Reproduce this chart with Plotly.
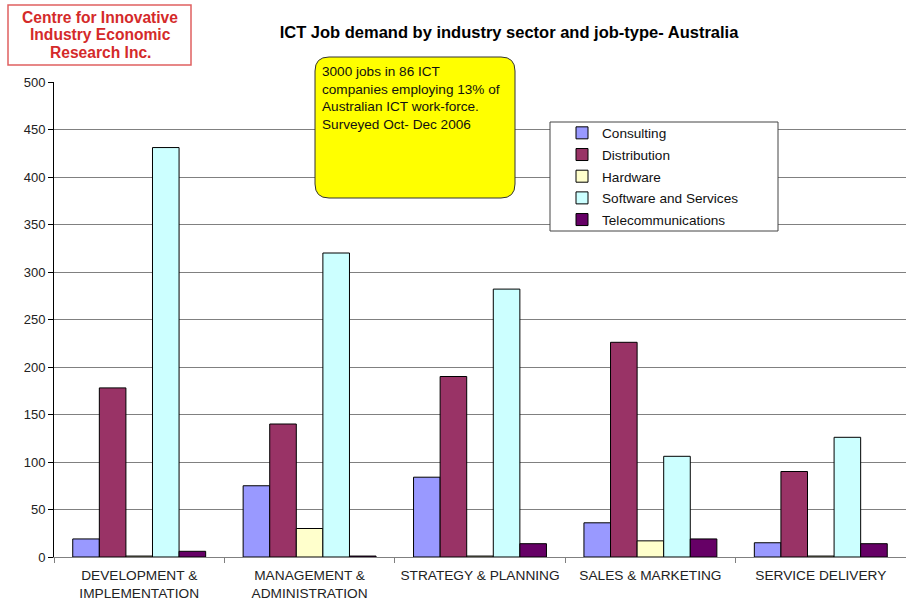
import plotly.graph_objects as go

# Job-type categories along the x axis
job_types = [
    "DEVELOPMENT &<br>IMPLEMENTATION",
    "MANAGEMENT &<br>ADMINISTRATION",
    "STRATEGY & PLANNING",
    "SALES & MARKETING",
    "SERVICE DELIVERY",
]

# Jobs demanded per industry sector
consulting = [19, 75, 84, 36, 15]
distribution = [178, 140, 190, 226, 90]
hardware = [1, 30, 1, 17, 1]
software_services = [431, 320, 282, 106, 126]
telecommunications = [6, 1, 14, 19, 14]

sectors = [
    ("Consulting", consulting, "#9999FF"),
    ("Distribution", distribution, "#993366"),
    ("Hardware", hardware, "#FFFFCC"),
    ("Software and Services", software_services, "#CCFFFF"),
    ("Telecommunications", telecommunications, "#660066"),
]

logo_lines = ["Centre for Innovative", "Industry Economic", "Research Inc."]

y_ticks = list(range(0, 501, 50))

W, H = 906, 601
ML, MR, MT, MB = 54, 0, 82, 44
PW, PH = W - ML - MR, H - MT - MB


def px_x(p):
    return (p - ML) / PW


def px_y(p):
    return (H - MB - p) / PH


fig = go.Figure()
for i, (name, vals, color) in enumerate(sectors):
    fig.add_trace(go.Bar(
        x=job_types, y=vals, name=name, legendgroup=f"g{i}",
        marker=dict(color=color, line=dict(color="#000000", width=1)),
    ))

# Rounded yellow note box
x0, x1, y0, y1, r = 315, 515, 57, 198, 14
rx, ry = r / PW, r / PH
X0, X1, Y0, Y1 = px_x(x0), px_x(x1), px_y(y1), px_y(y0)
path = (
    f"M{X0 + rx},{Y1} L{X1 - rx},{Y1} Q{X1},{Y1} {X1},{Y1 - ry} "
    f"L{X1},{Y0 + ry} Q{X1},{Y0} {X1 - rx},{Y0} "
    f"L{X0 + rx},{Y0} Q{X0},{Y0} {X0},{Y0 + ry} "
    f"L{X0},{Y1 - ry} Q{X0},{Y1} {X0 + rx},{Y1} Z"
)

shapes = [
    dict(type="path", path=path, xref="paper", yref="paper",
         fillcolor="#FFFF00", line=dict(color="#333333", width=1), layer="above"),
    # legend frame
    dict(type="rect", xref="paper", yref="paper",
         x0=px_x(550), x1=px_x(778), y0=px_y(231), y1=px_y(122),
         fillcolor="#FFFFFF", line=dict(color="#444444", width=1), layer="above"),
    # logo frame
    dict(type="rect", xref="paper", yref="paper",
         x0=px_x(8), x1=px_x(191), y0=px_y(65), y1=px_y(5),
         fillcolor="#FFFFFF", line=dict(color="#E06060", width=1.5), layer="above"),
]

annotations = [
    dict(text="3000 jobs in 86 ICT<br>companies employing 13% of<br>"
              "Australian ICT work-force.<br>Surveyed Oct- Dec 2006",
         xref="paper", yref="paper", x=px_x(320), y=px_y(62),
         xanchor="left", yanchor="top", align="left", showarrow=False,
         font=dict(family="Arial, Liberation Sans", size=13.6, color="#111111")),
]
for k, line in enumerate(logo_lines):
    annotations.append(dict(
        text=f"<b>{line}</b>", xref="paper", yref="paper",
        x=px_x(100), y=px_y(17 + 18 * k), xanchor="center", yanchor="middle",
        showarrow=False,
        font=dict(family="Arial, Liberation Sans", size=15.6, color="#D42A2A"),
    ))

fig.update_layout(
    width=W, height=H,
    margin=dict(l=ML, r=MR, t=MT, b=MB),
    paper_bgcolor="#FFFFFF", plot_bgcolor="#FFFFFF",
    font=dict(family="Arial, Liberation Sans", size=13, color="#222222"),
    title=dict(text="<b>ICT Job demand by industry sector and job-type- Australia</b>",
               x=509 / W, xanchor="center", y=1 - 32 / H, yanchor="middle",
               font=dict(size=16.5, color="#000000")),
    barmode="group", bargap=0.22, bargroupgap=0,
    showlegend=True,
    legend=dict(x=px_x(562), y=px_y(117.5), xanchor="left", yanchor="top",
                bgcolor="rgba(0,0,0,0)", borderwidth=0, tracegroupgap=1,
                font=dict(size=13.6, color="#111111")),
    shapes=shapes, annotations=annotations,
    xaxis=dict(showgrid=False, showline=True, linecolor="#808080", linewidth=1,
               ticks="outside", tickson="boundaries", ticklen=5, tickcolor="#808080",
               ticklabelstandoff=6, automargin=False,
               tickfont=dict(size=13.7, color="#222222")),
    yaxis=dict(range=[0, 500], tickvals=y_ticks, showgrid=True, gridcolor="#808080",
               gridwidth=1, zeroline=False, showline=True, linecolor="#000000",
               linewidth=1, ticks="outside", ticklen=5, tickcolor="#000000",
               automargin=False,
               tickfont=dict(size=13, color="#222222")),
)

fig.write_html("out.html")
